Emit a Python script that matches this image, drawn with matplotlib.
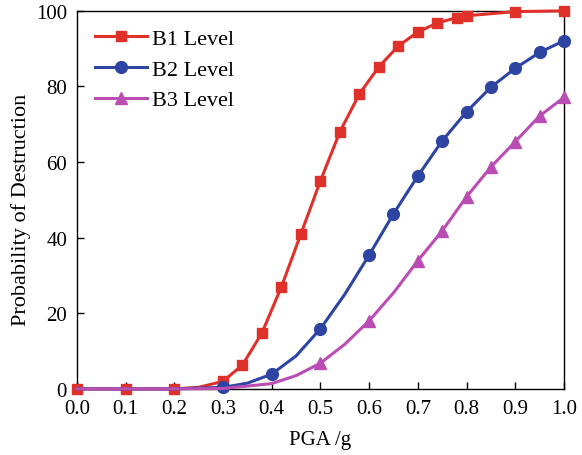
import matplotlib
matplotlib.use("Agg")
import matplotlib.pyplot as plt

plt.rcParams['font.family'] = ['Liberation Serif', 'DejaVu Serif']

# PGA values (g) and probability of destruction (%)
b1_pga = [0.0, 0.1, 0.2, 0.25, 0.3, 0.34, 0.38, 0.42, 0.46, 0.5, 0.54, 0.58, 0.62,
          0.66, 0.70, 0.74, 0.78, 0.8, 0.9, 1.0]
b1_prob = [0, 0, 0, 0.4, 2.0, 6.3, 14.8, 27.0, 41.0, 55.0, 68.0, 78.0, 85.2,
           90.7, 94.4, 96.8, 98.2, 98.7, 99.8, 100]
b1_marked = [i for i, x in enumerate(b1_pga) if x != 0.25]

b2_pga = [0.0, 0.1, 0.2, 0.3, 0.35, 0.4, 0.45, 0.5, 0.55, 0.6, 0.65, 0.7, 0.75,
          0.8, 0.85, 0.9, 0.95, 1.0]
b2_prob = [0, 0, 0, 0.4, 1.5, 3.9, 8.7, 15.9, 25.0, 35.4, 46.3, 56.3, 65.6,
           73.3, 79.8, 84.8, 89.0, 92.1]
b2_marked = [i for i, x in enumerate(b2_pga) if x >= 0.3 and x not in (0.35, 0.45, 0.55)]

b3_pga = [0.0, 0.1, 0.2, 0.3, 0.4, 0.45, 0.5, 0.55, 0.6, 0.65, 0.7, 0.75, 0.8,
          0.85, 0.9, 0.95, 1.0]
b3_prob = [0, 0, 0, 0.1, 1.4, 3.5, 6.8, 11.8, 18.0, 25.4, 33.9, 41.8, 50.8,
           58.7, 65.4, 72.2, 77.1]
b3_marked = [i for i, x in enumerate(b3_pga) if x >= 0.5 and x not in (0.55, 0.65)]

red = '#E0302A'
blue = '#2E44A2'
purple = '#BA4DB4'

fig = plt.figure(figsize=(5.82, 4.56), dpi=100)
ax = fig.add_axes([0.132, 0.145, 0.837, 0.829])

ax.plot(b1_pga, b1_prob, color=red, lw=2.2, marker='s', ms=7.5, markevery=b1_marked,
        label='B1 Level', zorder=3, clip_on=False)
ax.plot(b2_pga, b2_prob, color=blue, lw=2.2, marker='o', ms=8.5, markevery=b2_marked,
        label='B2 Level', zorder=4, clip_on=False)
ax.plot(b3_pga, b3_prob, color=purple, lw=2.2, marker='^', ms=9, markevery=b3_marked,
        label='B3 Level', zorder=5, clip_on=False)

ax.set_xlim(0, 1.0)
ax.set_ylim(0, 100)
ax.set_xticks([i / 10 for i in range(11)])
ax.set_xticklabels([f'{i / 10:.1f}' for i in range(11)])
ax.set_yticks(range(0, 101, 20))
ax.tick_params(direction='in', labelsize=15, length=5, width=1)
ax.tick_params(axis='x', pad=7)
ax.tick_params(axis='y', pad=7)
ax.set_xlabel('PGA /g', fontsize=15, labelpad=9)
ax.set_ylabel('Probability of Destruction', fontsize=16)
ax.yaxis.set_label_coords(-0.094, 0.476)
for s in ax.spines.values():
    s.set_linewidth(1)

ax.legend(loc='upper left', frameon=False, fontsize=16, handlelength=2.35,
          handletextpad=0.25, labelspacing=0.45, borderaxespad=0.4,
          bbox_to_anchor=(0.0, 1.0))

fig.savefig('out.png', dpi=100)
